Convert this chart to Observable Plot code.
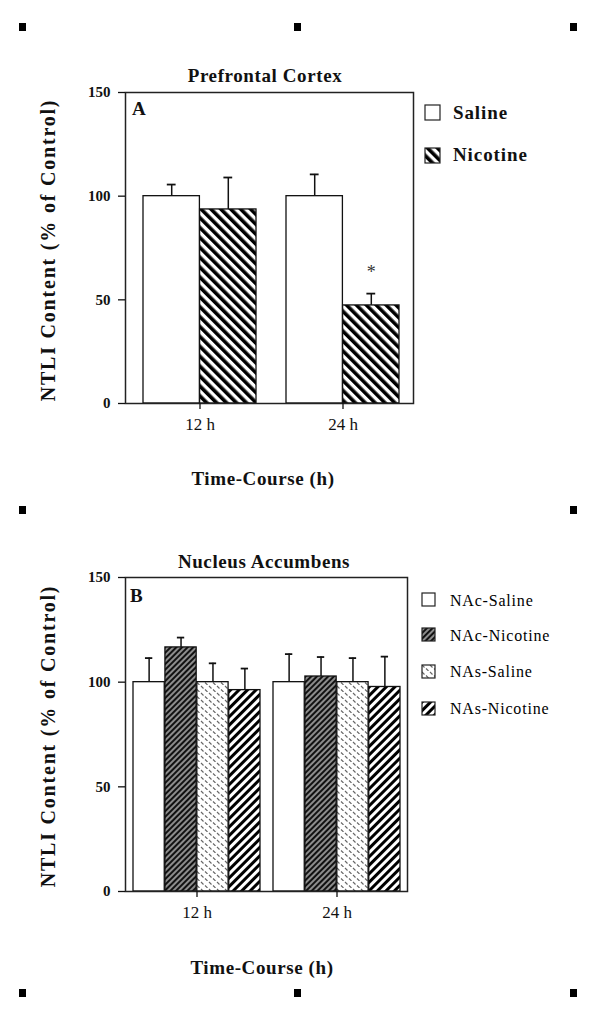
<!DOCTYPE html>
<html>
<head>
<meta charset="utf-8">
<script src="https://cdn.jsdelivr.net/npm/d3@7"></script>
<script src="https://cdn.jsdelivr.net/npm/@observablehq/plot@0.6"></script>
<style>
  html, body { margin: 0; padding: 0; background: #fff; }
  #page { position: relative; width: 601px; height: 1027px; overflow: hidden; background: #fff; font-family: "Liberation Serif", "Times New Roman", serif; color: #111; }
  .t { position: absolute; white-space: nowrap; line-height: 20px; }
  .title { font-size: 19px; font-weight: bold; letter-spacing: 0.6px; transform: translateX(-50%); }
  .ylab { font-size: 20px; font-weight: bold; letter-spacing: 1.8px; transform: translate(-50%, -50%) rotate(-90deg); }
  .panel { font-size: 19px; font-weight: bold; }
  .legA { font-size: 19px; font-weight: bold; letter-spacing: 0.9px; }
  .legB { font-size: 16px; letter-spacing: 0.8px; color: #000; }
  .sq { position: absolute; width: 7px; height: 8px; background: #000; }
  .sw { position: absolute; }
</style>
</head>
<body>
<svg width="0" height="0" style="position:absolute">
  <defs>
    <pattern id="pStripeA" width="7" height="7" patternUnits="userSpaceOnUse" patternTransform="rotate(-45)">
      <rect width="7" height="7" fill="#fff"/><rect width="3.6" height="7" fill="#000"/>
    </pattern>
    <pattern id="pNAcNic" width="4" height="4" patternUnits="userSpaceOnUse" patternTransform="rotate(45)">
      <rect width="4" height="4" fill="#8c8c8c"/><rect width="2" height="4" fill="#111"/>
    </pattern>
    <pattern id="pNAsSal" width="8" height="7" patternUnits="userSpaceOnUse">
      <rect width="8" height="7" fill="#fff"/>
      <path d="M1,1 L3.5,3.5 M5,4.5 L7.5,7" stroke="#666" stroke-width="1.1"/>
    </pattern>
    <pattern id="pNAsNic" width="6" height="6" patternUnits="userSpaceOnUse" patternTransform="rotate(45)">
      <rect width="6" height="6" fill="#fff"/><rect width="3" height="6" fill="#000"/>
    </pattern>
  </defs>
</svg>
<div id="page"></div>
<script>
// ---------- data ----------
const timeLabels = ["12 h", "24 h"];
const yTicks = [0, 50, 100, 150];

// Panel A: Prefrontal Cortex
const seriesA = ["Saline", "Nicotine"];
const salineMeanA = [100, 100];
const salineSemA = [5.6, 10.5];
const nicotineMeanA = [93.6, 47.3];
const nicotineSemA = [15.4, 5.7];
const nicotineSigA = ["", "*"];

// Panel B: Nucleus Accumbens
const seriesB = ["NAc-Saline", "NAc-Nicotine", "NAs-Saline", "NAs-Nicotine"];
const nacSalineMeanB = [100, 100];
const nacSalineSemB = [11.5, 13.4];
const nacNicotineMeanB = [116.6, 102.7];
const nacNicotineSemB = [4.7, 9.3];
const nasSalineMeanB = [100, 100];
const nasSalineSemB = [9.0, 11.5];
const nasNicotineMeanB = [96.2, 97.7];
const nasNicotineSemB = [10.3, 14.5];

// ---------- helpers ----------
const W = 601;
const page = document.getElementById("page");

// place text so that its baseline lands on `baseline` (line-height 20px)
function addText(cls, text, left, baseline, fs) {
  const d = document.createElement("div");
  d.className = "t " + cls;
  d.textContent = text;
  d.style.left = left + "px";
  const off = (20 - 1.107 * fs) / 2 + 0.891 * fs;
  d.style.top = (baseline - off) + "px";
  page.appendChild(d);
  return d;
}
function addCentered(cls, text, cx, cy) {
  const d = document.createElement("div");
  d.className = "t " + cls;
  d.textContent = text;
  d.style.left = cx + "px";
  d.style.top = cy + "px";
  page.appendChild(d);
}
function addSwatch(fill, x, y, s) {
  const ns = "http://www.w3.org/2000/svg";
  const svg = document.createElementNS(ns, "svg");
  svg.setAttribute("width", s + 2); svg.setAttribute("height", s + 2);
  svg.setAttribute("class", "sw");
  svg.style.left = (x - 1) + "px"; svg.style.top = (y - 1) + "px";
  const r = document.createElementNS(ns, "rect");
  r.setAttribute("x", 1); r.setAttribute("y", 1);
  r.setAttribute("width", s); r.setAttribute("height", s);
  r.setAttribute("fill", fill); r.setAttribute("stroke", "#222"); r.setAttribute("stroke-width", 1.2);
  svg.appendChild(r);
  page.appendChild(svg);
}

function panel({series, means, sems, sigs, fills, top, height, mt, mb, ml, mr, pi, po, align, cap}) {
  const n = series.length;
  const bw = d3.scaleBand(timeLabels, [ml, W - mr]).paddingInner(pi).paddingOuter(po).align(align).bandwidth();
  const marks = [];
  series.forEach((s, i) => {
    const rows = timeLabels.map((t, j) => ({time: t, series: s, value: means[i][j], err: sems[i][j], sig: sigs ? sigs[i][j] : ""}));
    const off = (i + 0.5) * bw / n - bw / 2;
    marks.push(Plot.ruleX(rows, {x: "time", y1: "value", y2: d => d.value + d.err, dx: off, stroke: "#111", strokeWidth: 1.5}));
    marks.push(Plot.tickY(rows, {x: "time", y: d => d.value + d.err, dx: off, insetLeft: bw / 2 - cap, insetRight: bw / 2 - cap, stroke: "#111", strokeWidth: 1.8}));
    marks.push(Plot.barY(rows, {x: "time", y: "value", fill: fills[i], stroke: "#111", strokeWidth: 1.3,
      insetLeft: i * bw / n, insetRight: (n - 1 - i) * bw / n}));
    if (sigs) marks.push(Plot.text(rows, {x: "time", y: d => d.value + d.err, text: "sig", dx: off, dy: -21, fontSize: 18, fill: "#333"}));
  });
  const svg = Plot.plot({
    width: W, height,
    marginTop: mt, marginBottom: mb, marginLeft: ml, marginRight: mr,
    x: {type: "band", domain: timeLabels, paddingInner: pi, paddingOuter: po, align},
    y: {domain: [0, 150]},
    style: {fontFamily: "Liberation Serif, serif", background: "transparent", color: "#111", overflow: "visible"},
    marks: [
      ...marks,
      Plot.frame({stroke: "#222", strokeWidth: 1.5}),
      Plot.axisX({tickSize: 6, tickPadding: 8, fontSize: 17, label: null, strokeWidth: 1.3}),
      Plot.axisY({ticks: yTicks, tickSize: 7, tickPadding: 8, fontSize: 15, fontWeight: "bold", label: null, strokeWidth: 1.3})
    ]
  });
  svg.style.position = "absolute";
  svg.style.left = "0px";
  svg.style.top = top + "px";
  page.appendChild(svg);
}

// registration marks
[[22, 27], [297, 27], [573, 27], [22, 510], [573, 510], [22, 993], [297, 993], [573, 993]].forEach(([x, y]) => {
  const d = document.createElement("div");
  d.className = "sq";
  d.style.left = (x - 3.5) + "px"; d.style.top = (y - 4) + "px";
  page.appendChild(d);
});

// ---------- Panel A ----------
const fillsA = ["#fff", "url(#pStripeA)"];
panel({
  series: seriesA, means: [salineMeanA, nicotineMeanA], sems: [salineSemA, nicotineSemA],
  sigs: [["", ""], nicotineSigA], fills: fillsA,
  top: 60, height: 390, mt: 32, mb: 47, ml: 125, mr: 188,
  pi: 0.21, po: 0.11, align: 0.57, cap: 4.5
});
addText("title", "Prefrontal Cortex", 265, 82, 19);
addText("title", "Time-Course (h)", 263, 485, 19);
addCentered("ylab", "NTLI Content (% of Control)", 48, 250);
addText("panel", "A", 132, 115, 19);
addSwatch(fillsA[0], 425, 105, 15);
addSwatch(fillsA[1], 425, 148, 15);
addText("legA", seriesA[0], 453, 119, 19);
addText("legA", seriesA[1], 453, 161, 19);

// ---------- Panel B ----------
const fillsB = ["#fff", "url(#pNAcNic)", "url(#pNAsSal)", "url(#pNAsNic)"];
panel({
  series: seriesB,
  means: [nacSalineMeanB, nacNicotineMeanB, nasSalineMeanB, nasNicotineMeanB],
  sems: [nacSalineSemB, nacNicotineSemB, nasSalineSemB, nasNicotineSemB],
  sigs: null, fills: fillsB,
  top: 545, height: 380, mt: 32, mb: 34, ml: 125, mr: 194,
  pi: 0.09, po: 0.05, align: 0.57, cap: 4
});
addText("title", "Nucleus Accumbens", 264, 568, 19);
addText("title", "Time-Course (h)", 262, 974, 19);
addCentered("ylab", "NTLI Content (% of Control)", 48, 736);
addText("panel", "B", 130, 602, 19);
const legBy = [593, 628, 665, 702];
const legBbase = [606, 641, 677, 714];
seriesB.forEach((s, i) => {
  addSwatch(fillsB[i], 422, legBy[i], 13);
  addText("legB", s, 450, legBbase[i], 16);
});
</script>
</body>
</html>
